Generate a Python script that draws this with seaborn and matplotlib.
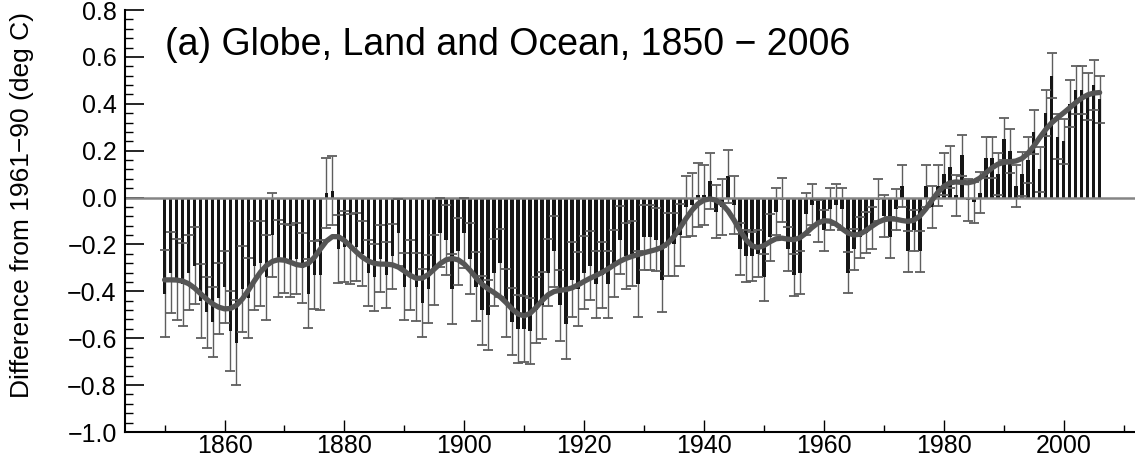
import math
import numpy as np
import pandas as pd
import matplotlib
matplotlib.use("Agg")
import matplotlib.pyplot as plt
import seaborn as sns
from matplotlib.ticker import MultipleLocator

# Annual global mean temperature anomalies (deg C, relative to 1961-90), 1850-2006
years = list(range(1850, 2007))

anomaly = [
    -0.41, -0.32, -0.35, -0.37, -0.32, -0.29, -0.44, -0.49, -0.53, -0.43,  # 1850s
    -0.38, -0.57, -0.62, -0.39, -0.43, -0.29, -0.28, -0.34, -0.16, -0.26,  # 1860s
    -0.26, -0.27, -0.26, -0.30, -0.41, -0.33, -0.33,  0.02,  0.03, -0.22,  # 1870s
    -0.21, -0.22, -0.21, -0.24, -0.32, -0.34, -0.26, -0.33, -0.25, -0.15,  # 1880s
    -0.38, -0.33, -0.38, -0.45, -0.39, -0.31, -0.15, -0.18, -0.39, -0.23,  # 1890s
    -0.15, -0.26, -0.38, -0.48, -0.50, -0.32, -0.28, -0.45, -0.53, -0.56,  # 1900s
    -0.56, -0.57, -0.48, -0.46, -0.32, -0.23, -0.46, -0.54, -0.35, -0.39,  # 1910s
    -0.32, -0.29, -0.37, -0.33, -0.37, -0.28, -0.18, -0.25, -0.24, -0.37,  # 1920s
    -0.17, -0.17, -0.18, -0.35, -0.20, -0.20, -0.16, -0.04, -0.03,  0.01,  # 1930s
     0.01,  0.07, -0.06, -0.04,  0.09, -0.03, -0.22, -0.25, -0.25, -0.24,  # 1940s
    -0.34, -0.17, -0.06, -0.01, -0.22, -0.33, -0.32, -0.07, -0.03, -0.10,  # 1950s
    -0.14, -0.05, -0.03, -0.05, -0.32, -0.22, -0.17, -0.15, -0.13, -0.01,  # 1960s
    -0.08, -0.17, -0.05,  0.05, -0.23, -0.14, -0.23,  0.05, -0.04,  0.05,  # 1970s
     0.10,  0.13,  0.01,  0.18, -0.01, -0.02,  0.02,  0.17,  0.17,  0.10,  # 1980s
     0.25,  0.20,  0.05,  0.10,  0.16,  0.28,  0.12,  0.36,  0.52,  0.26,  # 1990s
     0.24,  0.40,  0.46,  0.46,  0.43,  0.48,  0.42,                        # 2000s
]

# Half-width of the uncertainty range for each year (deg C)
uncertainty = [
    0.185, 0.174, 0.174, 0.178, 0.161, 0.163, 0.157, 0.151, 0.149, 0.150,
    0.154, 0.171, 0.181, 0.182, 0.171, 0.191, 0.181, 0.182, 0.178, 0.164,
    0.149, 0.154, 0.150, 0.149, 0.146, 0.146, 0.148, 0.149, 0.146, 0.144,
    0.151, 0.150, 0.146, 0.139, 0.141, 0.143, 0.142, 0.139, 0.139, 0.144,
    0.144, 0.149, 0.145, 0.146, 0.146, 0.149, 0.146, 0.150, 0.148, 0.144,
    0.150, 0.150, 0.146, 0.147, 0.149, 0.144, 0.146, 0.144, 0.143, 0.144,
    0.142, 0.141, 0.141, 0.142, 0.144, 0.151, 0.151, 0.148, 0.160, 0.159,
    0.157, 0.147, 0.144, 0.141, 0.144, 0.143, 0.144, 0.140, 0.139, 0.141,
    0.139, 0.137, 0.135, 0.139, 0.134, 0.135, 0.132, 0.130, 0.136, 0.137,
    0.128, 0.119, 0.112, 0.119, 0.112, 0.124, 0.111, 0.110, 0.105, 0.100,
    0.100, 0.100, 0.100, 0.095, 0.095, 0.090, 0.090, 0.090, 0.088, 0.089,
    0.089, 0.089, 0.089, 0.090, 0.089, 0.088, 0.088, 0.088, 0.088, 0.090,
    0.089, 0.088, 0.088, 0.089, 0.088, 0.089, 0.088, 0.089, 0.088, 0.088,
    0.089, 0.088, 0.088, 0.087, 0.090, 0.088, 0.088, 0.088, 0.087, 0.088,
    0.088, 0.094, 0.090, 0.093, 0.097, 0.095, 0.096, 0.097, 0.097, 0.095,
    0.097, 0.100, 0.102, 0.103, 0.100, 0.105, 0.100,
]

title = "(a) Globe, Land and Ocean, 1850 \u2212 2006"
ylabel = "Difference from 1961\u221290 (deg C)"
xticks = [1860, 1880, 1900, 1920, 1940, 1960, 1980, 2000]
yticks = [-1.0, -0.8, -0.6, -0.4, -0.2, 0.0, 0.2, 0.4, 0.6, 0.8]
ytick_labels = ["\u22121.0", "\u22120.8", "\u22120.6", "\u22120.4", "\u22120.2",
                "0.0", "0.2", "0.4", "0.6", "0.8"]

df = pd.DataFrame({"year": years, "anomaly": anomaly, "err": uncertainty})

# 21-term binomial filter for the decadal curve (ends padded by reflection)
weights = np.array([math.comb(20, k) for k in range(21)], dtype=float)
weights /= weights.sum()
padded = np.pad(df["anomaly"].to_numpy(), 10, mode="reflect")
df["smooth"] = np.convolve(padded, weights, mode="valid")

sns.set_style("white")
plt.rcParams["font.family"] = ["Liberation Sans", "DejaVu Sans"]
plt.rcParams["text.color"] = "black"

fig = plt.figure(figsize=(11.35, 4.71), dpi=100)
ax = fig.add_axes([125 / 1135, 1 - 432 / 471, 1 - 125 / 1135, 422 / 471])

# uncertainty whiskers (behind the bars)
eb = ax.errorbar(df["year"], df["anomaly"], yerr=df["err"], fmt="none",
                 ecolor="#5e5e5e", elinewidth=1.0, capsize=3.6, capthick=1.3,
                 zorder=1)
for cap in eb[1]:
    cap.set_color("#111111")
    cap.set_zorder(3)

sns.barplot(data=df, x="year", y="anomaly", native_scale=True, width=0.6,
            color="#161616", saturation=1, errorbar=None, ax=ax, zorder=2,
            linewidth=0, edgecolor="none")

ax.axhline(0, color="#858585", lw=1.8, zorder=2.5)

sns.lineplot(data=df, x="year", y="smooth", color="#555555", lw=3.8, ax=ax,
             zorder=4)

ax.set_xlim(1843.4, 2011.9)
ax.set_ylim(-1.0, 0.8)
ax.set_xticks(xticks)
ax.set_yticks(yticks)
ax.set_yticklabels(ytick_labels)
ax.xaxis.set_minor_locator(MultipleLocator(10))
ax.yaxis.set_minor_locator(MultipleLocator(0.04))
ax.set_xlabel("")
ax.set_ylabel("")

ax.tick_params(axis="both", which="both", left=True, bottom=True,
               top=False, right=False, colors="black", labelcolor="black")
ax.tick_params(axis="y", which="major", direction="in", length=14, width=1.2,
               labelsize=18, pad=6)
ax.tick_params(axis="y", which="minor", direction="in", length=6, width=1.0)
ax.tick_params(axis="x", which="major", direction="in", length=9, width=1.0,
               labelsize=18, pad=1.5)
ax.tick_params(axis="x", which="minor", direction="in", length=5, width=1.0)

for side in ("top", "right"):
    ax.spines[side].set_visible(False)
for side in ("left", "bottom"):
    ax.spines[side].set_color("black")
    ax.spines[side].set_linewidth(1.5)

fig.text(165 / 1135, 1 - 45 / 471, title, fontsize=27, ha="left", va="center",
         color="black")
fig.text(22 / 1135, 1 - 205 / 471, ylabel, fontsize=19, rotation=90,
         ha="center", va="center", color="black")

fig.savefig("out.png", dpi=100, facecolor="white")
